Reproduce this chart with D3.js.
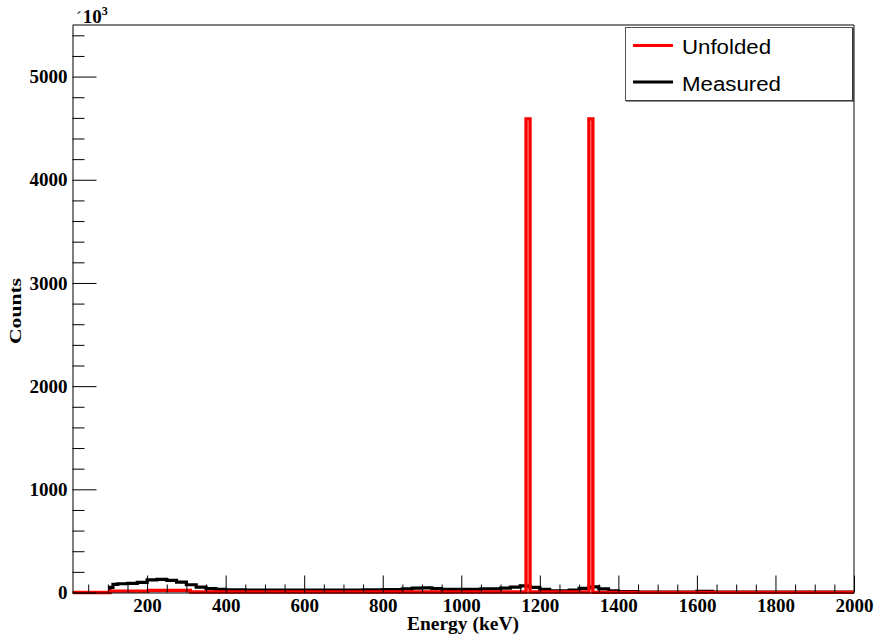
<!DOCTYPE html>
<html>
<head>
<meta charset="utf-8">
<script src="https://cdn.jsdelivr.net/npm/d3@7/dist/d3.min.js"></script>
<style>
  html, body { margin: 0; padding: 0; background: #fff; }
  svg { display: block; }
  .tick text { font-family: "Liberation Serif", "Times New Roman", serif; font-weight: bold; }
</style>
</head>
<body>
<svg id="chart" width="878" height="642"></svg>
<script>
// Energy spectra, counts in units of 10^3. Each bin: [lowEdge keV, highEdge keV, counts].
const measuredBins = [
  [10, 105, 0], [105, 113, 50], [113, 125, 78], [125, 150, 85], [150, 175, 88],
  [175, 200, 98], [200, 225, 122], [225, 250, 128], [250, 275, 118], [275, 300, 100],
  [300, 325, 75], [325, 350, 52], [350, 375, 38], [375, 400, 30], [400, 450, 26],
  [450, 500, 24], [500, 550, 24], [550, 600, 23], [600, 650, 23], [650, 700, 24],
  [700, 750, 24], [750, 800, 25], [800, 850, 28], [850, 875, 35], [875, 900, 42],
  [900, 925, 44], [925, 950, 38], [950, 1000, 30], [1000, 1050, 30], [1050, 1100, 36],
  [1100, 1125, 42], [1125, 1150, 52], [1150, 1175, 65], [1175, 1200, 50], [1200, 1225, 30],
  [1225, 1275, 16], [1275, 1300, 24], [1300, 1325, 40], [1325, 1350, 55], [1350, 1375, 35],
  [1375, 1400, 16], [1400, 1450, 8], [1450, 1600, 5], [1600, 1640, 12], [1640, 2000, 4]
];
const unfoldedBins = [
  [10, 105, 0], [105, 203, 13], [203, 310, 20], [310, 1165, 5], [1165, 1175, 4590],
  [1175, 1325, 5], [1325, 1335, 4590], [1335, 2000, 1]
];

const xMajorTicks = [200, 400, 600, 800, 1000, 1200, 1400, 1600, 1800, 2000];
const xMinorTicks = d3.range(50, 2000, 50).filter(v => v % 200 !== 0);
const yMajorTicks = [0, 1000, 2000, 3000, 4000, 5000];
const yMinorTicks = d3.range(200, 5500, 200).filter(v => v % 1000 !== 0);

const legendItems = [
  { label: "Unfolded", color: "#ff0000" },
  { label: "Measured", color: "#000000" }
];

const svg = d3.select("#chart");
const plotL = 72.5, plotR = 854, plotT = 25, plotB = 592.5;

const x = d3.scaleLinear().domain([10, 2000]).range([plotL, plotR]);
const y = d3.scaleLinear().domain([0, 5500]).range([plotB, plotT]);

// Frame (top and right edges)
svg.append("line").attr("x1", plotL).attr("x2", plotR).attr("y1", plotT).attr("y2", plotT)
  .attr("stroke", "#000").attr("stroke-width", 1);
svg.append("line").attr("x1", plotR).attr("x2", plotR).attr("y1", plotT).attr("y2", plotB)
  .attr("stroke", "#333").attr("stroke-width", 1.2);

// Histogram step path from bins
function stepPoints(bins) {
  const pts = [];
  bins.forEach(b => { pts.push([b[0], b[2]]); pts.push([b[1], b[2]]); });
  return pts;
}
const line = d3.line().x(d => x(d[0])).y(d => y(d[1]));

svg.append("defs").append("clipPath").attr("id", "plotclip")
  .append("rect").attr("x", plotL).attr("y", plotT).attr("width", plotR - plotL).attr("height", plotB - plotT + 3);

const plot = svg.append("g").attr("clip-path", "url(#plotclip)");
plot.append("path").datum(stepPoints(measuredBins)).attr("d", line)
  .attr("fill", "none").attr("stroke", "#000").attr("stroke-width", 3.2).attr("stroke-linejoin", "miter");
plot.append("path").datum(stepPoints(unfoldedBins)).attr("d", line)
  .attr("fill", "none").attr("stroke", "#ff0000").attr("stroke-width", 3.4).attr("stroke-linejoin", "miter");

// X axis
const xMinor = svg.append("g").attr("transform", `translate(0,${plotB})`)
  .call(d3.axisBottom(x).tickValues(xMinorTicks).tickSize(-8).tickSizeOuter(0).tickFormat(""));
xMinor.select(".domain").remove();
const xAxis = svg.append("g").attr("transform", `translate(0,${plotB})`)
  .call(d3.axisBottom(x).tickValues(xMajorTicks).tickSize(-17).tickSizeOuter(0).tickPadding(6).tickFormat(d3.format("d")));
xAxis.selectAll("text").attr("font-size", 19).attr("fill", "#000");

// Y axis
const yMinor = svg.append("g").attr("transform", `translate(${plotL},0)`)
  .call(d3.axisLeft(y).tickValues(yMinorTicks).tickSize(-12).tickSizeOuter(0).tickFormat(""));
yMinor.select(".domain").remove();
const yAxis = svg.append("g").attr("transform", `translate(${plotL},0)`)
  .call(d3.axisLeft(y).tickValues(yMajorTicks).tickSize(-24).tickSizeOuter(0).tickPadding(5).tickFormat(d3.format("d")));
yAxis.selectAll("text").attr("font-size", 19).attr("fill", "#000");

svg.selectAll(".domain, .tick line").attr("stroke", "#000").attr("stroke-width", 1);

// Axis titles
svg.append("text").attr("x", 463).attr("y", 630).attr("text-anchor", "middle")
  .attr("font-family", "Liberation Serif, Times New Roman, serif").attr("font-weight", "bold")
  .attr("font-size", 18).attr("textLength", 112).attr("lengthAdjust", "spacingAndGlyphs")
  .text("Energy (keV)");
svg.append("text").attr("transform", "translate(20.5,311) rotate(-90)").attr("text-anchor", "middle")
  .attr("font-family", "Liberation Serif, Times New Roman, serif").attr("font-weight", "bold")
  .attr("font-size", 17).attr("textLength", 66).attr("lengthAdjust", "spacingAndGlyphs")
  .text("Counts");

// Exponent label
const expo = svg.append("text").attr("x", 76).attr("y", 23)
  .attr("font-family", "Liberation Serif, Times New Roman, serif").attr("font-weight", "bold")
  .attr("font-size", 19);
expo.append("tspan").attr("font-weight", "normal").attr("font-size", 17).text("\u00b4");
expo.append("tspan").attr("dx", 1).text("10");
expo.append("tspan").attr("font-size", 12).attr("dy", -8).text("3");

// Legend
const lg = svg.append("g");
lg.append("rect").attr("x", 625.5).attr("y", 27.5).attr("width", 227).attr("height", 73)
  .attr("fill", "#fff").attr("stroke", "#555").attr("stroke-width", 1);
lg.append("line").attr("x1", 853).attr("x2", 853).attr("y1", 28).attr("y2", 101.5)
  .attr("stroke", "#222").attr("stroke-width", 1.2);
lg.append("line").attr("x1", 626).attr("x2", 853.5).attr("y1", 101).attr("y2", 101)
  .attr("stroke", "#222").attr("stroke-width", 1.2);
const rowY = d3.scalePoint().domain(legendItems.map(d => d.label)).range([45.5, 82]);
legendItems.forEach(it => {
  lg.append("line").attr("x1", 633).attr("x2", 673).attr("y1", rowY(it.label)).attr("y2", rowY(it.label))
    .attr("stroke", it.color).attr("stroke-width", 3);
  lg.append("text").attr("x", 682).attr("y", rowY(it.label) + 8.5)
    .attr("font-family", "Liberation Sans, Arial, Helvetica, sans-serif").attr("font-size", 20)
    .attr("textLength", it.label === "Unfolded" ? 89 : 99).attr("lengthAdjust", "spacingAndGlyphs")
    .attr("fill", "#000").text(it.label);
});
</script>
</body>
</html>
